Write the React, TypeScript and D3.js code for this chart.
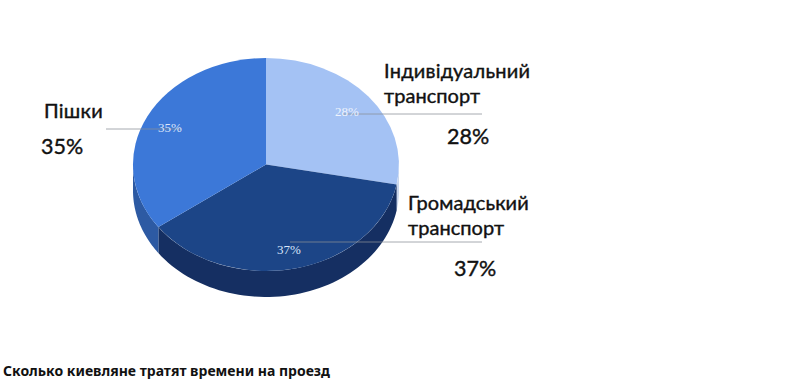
import React from "react";
import * as d3 from "d3";

const categories = ["Індивідуальний транспорт", "Громадський транспорт", "Пішки"];
const shares = [28, 37, 35];
const topColors = ["#a4c2f4", "#1c4587", "#3c78d8"];
const sideColors = ["#c9d6ec", "#152f62", "#2d5aa3"];
const innerLabels = ["28%", "37%", "35%"];
const innerLabelPos = [[347, 116], [289, 254], [170, 132]];
const leaders = [[343, 114, 482], [290, 242, 482], [106, 129, 181]];
const title = "Сколько киевляне тратят времени на проезд";

const W = 810, H = 389;
const cx = 266, cy = 164.5, rx = 133, ry = 106.5, depth = 26;
const LABEL_FONT = "Lato, 'Open Sans', sans-serif";

export default function App() {
  const pie = d3.pie<number>().sort(null).startAngle(0).endAngle(2 * Math.PI);
  const arcs = pie(shares);
  const unit = d3.arc<d3.PieArcDatum<number>>().innerRadius(0).outerRadius(1);
  const sx = d3.scaleLinear().domain([-1, 1]).range([cx - rx, cx + rx]);
  const sy = d3.scaleLinear().domain([-1, 1]).range([cy - ry, cy + ry]);
  const wall = (a0: number, a1: number) => {
    const lo = Math.max(a0, Math.PI / 2);
    const hi = Math.min(a1, (3 * Math.PI) / 2);
    if (hi <= lo) return "";
    const angles = d3.range(0, 61).map((i) => lo + ((hi - lo) * i) / 60);
    const pts = angles.map((t) => [sx(Math.sin(t)), sy(-Math.cos(t))] as [number, number]);
    const area = d3.area<[number, number]>().x((d) => d[0]).y0((d) => d[1]).y1((d) => d[1] + depth);
    return area(pts) || "";
  };
  return (
    <svg width={W} height={H} style={{ position: "absolute", left: 0, top: 0, background: "#fff" }}>
      {arcs.map((a, i) => (
        <path key={"w" + i} d={wall(a.startAngle, a.endAngle)} fill={sideColors[i]} />
      ))}
      <g transform={`translate(${cx},${cy}) scale(${rx},${ry})`}>
        {arcs.map((a, i) => (
          <path key={"t" + i} d={unit(a) || ""} fill={topColors[i]} />
        ))}
      </g>
      {leaders.map(([x0, y, x1], i) => (
        <line key={"l" + i} x1={x0} x2={x1} y1={y} y2={y} stroke="#8a8f96" strokeOpacity={0.75} strokeWidth={1} />
      ))}
      {innerLabels.map((t, i) => (
        <text key={"p" + i} x={innerLabelPos[i][0]} y={innerLabelPos[i][1]} textAnchor="middle"
          fontFamily="Liberation Serif, serif" fontSize={13} fill={i === 0 ? "#eef3fc" : "#dbe6fa"}>{t}</text>
      ))}
      <g fontFamily={LABEL_FONT} fontSize={20} fill="#111" stroke="#111" strokeWidth={0.4}>
        <text x={384} y={78} letterSpacing={0.25}>Індивідуальний</text>
        <text x={384} y={103} letterSpacing={0.05}>транспорт</text>
        <text x={447} y={144} fontSize={21.5}>28%</text>
        <text x={408} y={210} letterSpacing={0.1}>Громадський</text>
        <text x={408} y={235} letterSpacing={0.05}>транспорт</text>
        <text x={454} y={276} fontSize={21.5}>37%</text>
        <text x={44} y={118} letterSpacing={0.25}>Пішки</text>
        <text x={41} y={154} fontSize={21.5}>35%</text>
      </g>
      <text x={3} y={376} fontFamily="'Noto Sans', sans-serif" fontWeight={700} fontSize={14} textLength={327} lengthAdjust="spacingAndGlyphs" fill="#111">{title}</text>
    </svg>
  );
}
